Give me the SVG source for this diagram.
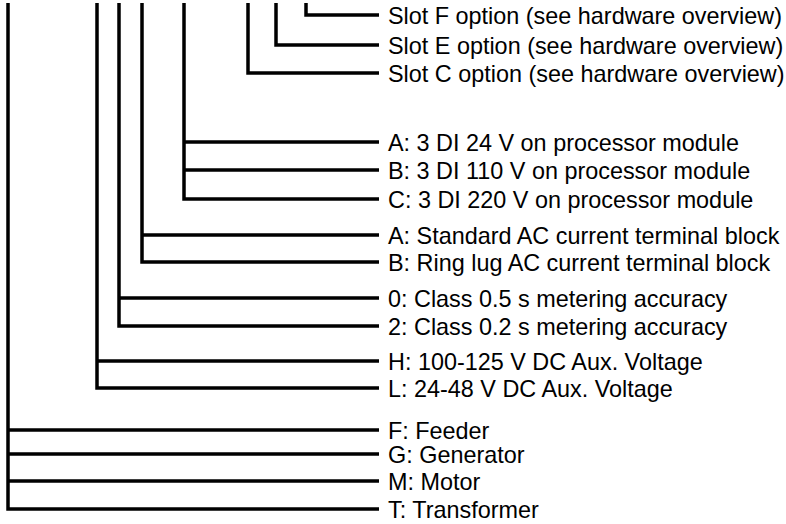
<svg xmlns="http://www.w3.org/2000/svg" width="786" height="524" viewBox="0 0 786 524">
<style>
  .ln { fill: none; stroke: #000; stroke-width: 3.5; stroke-linejoin: miter; stroke-linecap: butt; }
  .lb { font-family: "Liberation Sans", Arial, sans-serif; font-size: 23.4px; fill: #000; }
</style>
<rect width="786" height="524" fill="#fff"/>
<g id="connectors">
  <path class="ln" d="M306,3 V15 H379"/>
  <path class="ln" d="M276,3 V45 H379"/>
  <path class="ln" d="M248,3 V73 H379"/>
  <path class="ln" d="M184,3 V199 H379 M184,142 H379 M184,170 H379"/>
  <path class="ln" d="M142,3 V262 H379 M142,235 H379"/>
  <path class="ln" d="M119,3 V326 H379 M119,298 H379"/>
  <path class="ln" d="M97,3 V388 H379 M97,361 H379"/>
  <path class="ln" d="M8,3 V509 H379 M8,430 H379 M8,454 H379 M8,481 H379"/>
</g>
<g id="slotF"><text class="lb" x="388" y="24">Slot F option (see hardware overview)</text></g>
<g id="slotE"><text class="lb" x="388" y="54">Slot E option (see hardware overview)</text></g>
<g id="slotC"><text class="lb" x="388" y="82">Slot C option (see hardware overview)</text></g>
<g id="di">
  <text class="lb" x="388" y="151">A: 3 DI 24 V on processor module</text>
  <text class="lb" x="388" y="179">B: 3 DI 110 V on processor module</text>
  <text class="lb" x="388" y="208">C: 3 DI 220 V on processor module</text>
</g>
<g id="terminal">
  <text class="lb" x="388" y="244">A: Standard AC current terminal block</text>
  <text class="lb" x="388" y="271">B: Ring lug AC current terminal block</text>
</g>
<g id="metering">
  <text class="lb" x="388" y="307">0: Class 0.5 s metering accuracy</text>
  <text class="lb" x="388" y="335">2: Class 0.2 s metering accuracy</text>
</g>
<g id="aux">
  <text class="lb" x="388" y="370">H: 100-125 V DC Aux. Voltage</text>
  <text class="lb" x="388" y="397">L: 24-48 V DC Aux. Voltage</text>
</g>
<g id="application">
  <text class="lb" x="388" y="439">F: Feeder</text>
  <text class="lb" x="388" y="463">G: Generator</text>
  <text class="lb" x="388" y="490">M: Motor</text>
  <text class="lb" x="388" y="518">T: Transformer</text>
</g>
</svg>
